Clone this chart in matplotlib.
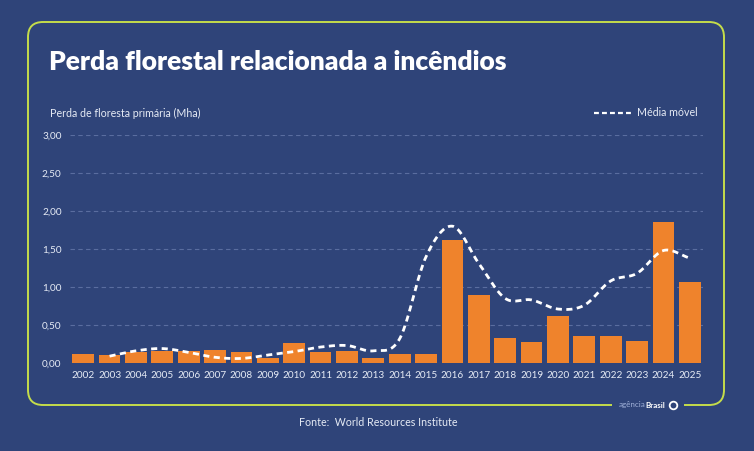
import numpy as np
import matplotlib
matplotlib.use("Agg")
import matplotlib.pyplot as plt
from matplotlib.patches import FancyBboxPatch, Rectangle

years = [str(y) for y in range(2002, 2026)]
loss = [0.12, 0.10, 0.15, 0.16, 0.16, 0.17, 0.14, 0.07, 0.26, 0.14, 0.16, 0.07,
        0.12, 0.12, 1.62, 0.89, 0.33, 0.27, 0.62, 0.36, 0.355, 0.29, 1.86, 1.07]
ma_years = [str(y) for y in range(2003, 2026)]
moving_avg = [0.09, 0.16, 0.19, 0.14, 0.075, 0.06, 0.105, 0.15, 0.21, 0.23, 0.16,
              0.32, 1.40, 1.80, 1.31, 0.85, 0.83, 0.71, 0.76, 1.08, 1.18, 1.48, 1.38]
yticks = [0.0, 0.5, 1.0, 1.5, 2.0, 2.5, 3.0]
ytick_labels = ["0,00", "0,50", "1,00", "1,50", "2,00", "2,50", "3,00"]

BG = "#2f4479"
ORANGE = "#ef832c"
LIME = "#c5dd4a"
GRID = "#5a6d9f"
TXT = "#e6ebf5"

plt.rcParams['font.family'] = ['Lato', 'DejaVu Sans']

fig = plt.figure(figsize=(7.54, 4.51), dpi=100, facecolor=BG)

def fx(px):
    return px / 754

def fy(py):
    return 1 - py / 451

# rounded frame
frame = FancyBboxPatch((fx(28), fy(405)), (724 - 28) / 754, (405 - 22) / 451,
                       boxstyle="round,pad=0,rounding_size=0.02", transform=fig.transFigure,
                       facecolor="none", edgecolor=LIME, linewidth=1.4, mutation_aspect=754 / 451)
fig.patches.append(frame)
fig.patches.append(Rectangle((fx(612), fy(410)), 72 / 754, 10 / 451, transform=fig.transFigure,
                             facecolor=BG, edgecolor="none", zorder=2))

ax = fig.add_axes([fx(70), fy(363), 633 / 754, 228 / 451])
ax.set_facecolor(BG)
x = np.arange(len(years))
ax.bar(x, loss, width=0.82, color=ORANGE, zorder=2)

# smooth rendering of moving average (Catmull-Rom through the points)
mx = np.array([years.index(y) for y in ma_years], dtype=float)
my = np.array(moving_avg)
px = np.concatenate([[2 * mx[0] - mx[1]], mx, [2 * mx[-1] - mx[-2]]])
py = np.concatenate([[2 * my[0] - my[1]], my, [2 * my[-1] - my[-2]]])
sx, sy = [], []
t = np.linspace(0, 1, 20, endpoint=False)
for i in range(1, len(px) - 2):
    for arr, out in ((px, sx), (py, sy)):
        p0, p1, p2, p3 = arr[i - 1], arr[i], arr[i + 1], arr[i + 2]
        out.extend(0.5 * ((2 * p1) + (-p0 + p2) * t + (2 * p0 - 5 * p1 + 4 * p2 - p3) * t ** 2
                          + (-p0 + 3 * p1 - 3 * p2 + p3) * t ** 3))
sx.append(mx[-1]); sy.append(my[-1])
ax.plot(sx, sy, color="white", lw=2.0, linestyle=(0, (2.2, 1.6)), zorder=3)

ax.set_xlim(-0.5, len(years) - 0.5)
ax.set_ylim(0, 3.0)
ax.set_yticks(yticks)
ax.set_yticklabels(ytick_labels)
ax.set_xticks(x)
ax.set_xticklabels(years)
ax.tick_params(axis="both", length=0, colors=TXT, labelsize=7.2)
ax.tick_params(axis="x", pad=6)
ax.tick_params(axis="y", pad=6)
for s in ax.spines.values():
    s.set_visible(False)
ax.grid(axis="y", color=GRID, linestyle=(0, (4, 3)), linewidth=0.8, zorder=0)
ax.set_axisbelow(True)

fig.text(fx(49), fy(62), "Perda florestal relacionada a incêndios", color="white",
         fontsize=19, fontweight="heavy", va="center", ha="left")
fig.text(fx(50), fy(113), "Perda de floresta primária (Mha)", color=TXT,
         fontsize=7.7, va="center", ha="left")
fig.lines.append(plt.Line2D([fx(594), fx(634)], [fy(113), fy(113)],
                            transform=fig.transFigure, color="white", lw=1.6,
                            linestyle=(0, (2.2, 1.4))))
fig.text(fx(698), fy(113), "Média móvel", color=TXT, fontsize=7.7,
         va="center", ha="right")

fig.text(fx(619), fy(405), "agência", color="#9fb0d8", fontsize=5.8,
         va="center", ha="left", zorder=3)
fig.text(fx(645), fy(405), "Brasil", color="white", fontsize=5.8, fontweight="bold",
         va="center", ha="left", zorder=3)
fig.lines.append(plt.Line2D([fx(673)], [fy(405)], transform=fig.transFigure, marker="o",
                            markersize=5.5, markerfacecolor="none", markeredgecolor="white",
                            markeredgewidth=1.3, linestyle="none", zorder=3))
fig.text(fx(299), fy(422), "Fonte:  World Resources Institute", color=TXT,
         fontsize=7.7, va="center", ha="left")

fig.savefig("out.png", dpi=100, facecolor=BG)
